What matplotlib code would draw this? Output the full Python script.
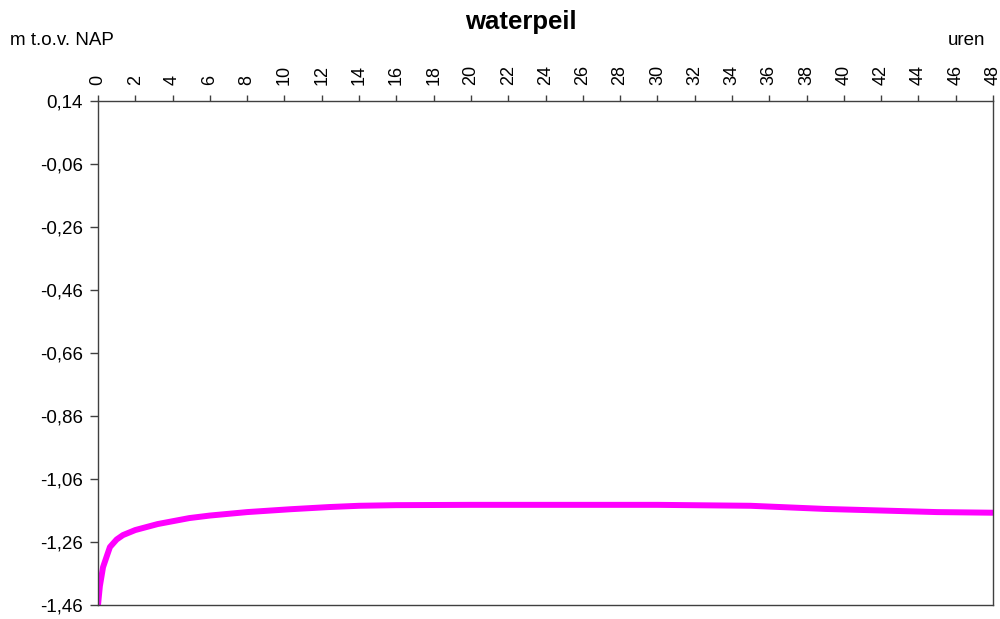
import matplotlib
matplotlib.use('Agg')
import matplotlib.pyplot as plt
import numpy as np

plt.rcParams['font.family'] = ['Liberation Sans', 'DejaVu Sans']

# waterpeil (m t.o.v. NAP) per uur
uren = [0, 0.1, 0.27, 0.5, 0.64, 1.0, 1.34, 2, 3.2, 4.9, 6, 8, 10.3, 12.4, 14, 16,
        20, 25, 30, 35, 39, 42, 45, 48]
peil = [-1.46, -1.40, -1.34, -1.30, -1.276, -1.252, -1.238, -1.222, -1.203, -1.184,
        -1.176, -1.165, -1.156, -1.149, -1.145, -1.143, -1.142, -1.142, -1.142,
        -1.145, -1.155, -1.160, -1.165, -1.167]

xticks = np.arange(0, 49, 2)
yticks = [0.14, -0.06, -0.26, -0.46, -0.66, -0.86, -1.06, -1.26, -1.46]

fig = plt.figure(figsize=(10, 6.19), dpi=100)
ax = fig.add_axes([0.098, 0.0226, 0.895, 0.8142])

ax.plot(uren, peil, color='#ff00ff', lw=4.3, solid_capstyle='butt')

ax.set_xlim(0, 48)
ax.set_ylim(-1.46, 0.14)
ax.set_xticks(xticks)
ax.set_xticklabels([str(t) for t in xticks], rotation=90, fontsize=13)
ax.set_yticks(yticks)
ax.set_yticklabels([f'{v:.2f}'.replace('.', ',') for v in yticks], fontsize=13.5)
ax.xaxis.tick_top()
ax.tick_params(axis='x', direction='out', length=4.5, width=1, pad=7, color='#404040')
ax.tick_params(axis='y', direction='out', length=5.5, width=1, pad=5.5, color='#404040')
for s in ax.spines.values():
    s.set_color('#404040')
    s.set_linewidth(1)

fig.text(0.521, 0.965, 'waterpeil', ha='center', va='center', fontsize=18.5, fontweight='bold')
fig.text(0.01, 0.935, 'm t.o.v. NAP', ha='left', va='center', fontsize=13.5)
fig.text(0.985, 0.935, 'uren', ha='right', va='center', fontsize=13.5)

fig.savefig('out.png', dpi=100, facecolor='white')
